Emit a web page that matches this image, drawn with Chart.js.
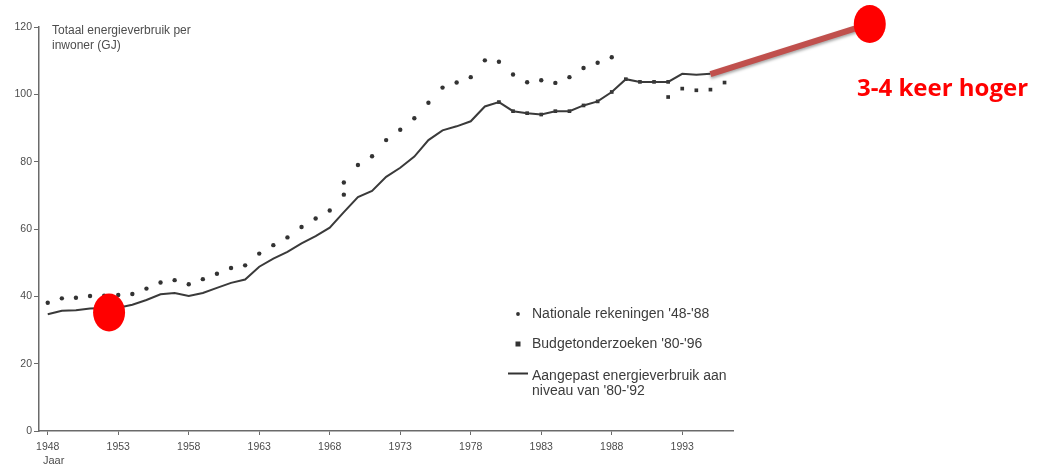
<!DOCTYPE html>
<html>
<head>
<meta charset="utf-8">
<script src="https://cdn.jsdelivr.net/npm/chart.js@4.4.1/dist/chart.umd.min.js"></script>
<style>
  html, body { margin: 0; padding: 0; background: #fff; }
  #wrap { width: 1046px; height: 468px; }
</style>
</head>
<body>
<div id="wrap"><canvas id="grafiek"></canvas></div>
<script>
// Nationale rekeningen '48-'88 (1969 komt twee keer voor: breuk in de reeks)
const jarenNationaal = [1948, 1949, 1950, 1951, 1952, 1953, 1954, 1955, 1956, 1957, 1958, 1959, 1960,
  1961, 1962, 1963, 1964, 1965, 1966, 1967, 1968, 1969, 1969, 1970, 1971, 1972, 1973, 1974, 1975,
  1976, 1977, 1978, 1979, 1980, 1981, 1982, 1983, 1984, 1985, 1986, 1987, 1988];
const waardenNationaal = [38.1, 39.4, 39.6, 40.1, 40.2, 40.4, 40.7, 42.3, 44.1, 44.8, 43.6, 45.1, 46.7,
  48.4, 49.2, 52.7, 55.2, 57.5, 60.6, 63.1, 65.5, 70.2, 73.8, 79.0, 81.6, 86.4, 89.5, 92.9, 97.5,
  102.0, 103.5, 105.1, 110.1, 109.7, 105.9, 103.6, 104.2, 103.4, 105.1, 107.8, 109.4, 111.0];

// Budgetonderzoeken '80-'96 (1992 twee keer)
const jarenBudget = [1980, 1981, 1982, 1983, 1984, 1985, 1986, 1987, 1988, 1989, 1990, 1991, 1992,
  1992, 1993, 1994, 1995, 1996];
const waardenBudget = [97.7, 95.0, 94.4, 94.0, 95.0, 95.0, 96.7, 97.9, 100.7, 104.5, 103.7, 103.7, 103.7,
  99.2, 101.7, 101.2, 101.4, 103.5];

// Aangepast energieverbruik aan niveau van '80-'92
const jarenAangepast = [1948, 1949, 1950, 1951, 1952, 1953, 1954, 1955, 1956, 1957, 1958, 1959, 1960,
  1961, 1962, 1963, 1964, 1965, 1966, 1967, 1968, 1969, 1970, 1971, 1972, 1973, 1974, 1975, 1976,
  1977, 1978, 1979, 1980, 1981, 1982, 1983, 1984, 1985, 1986, 1987, 1988, 1989, 1990, 1991, 1992,
  1993, 1994, 1995];
const waardenAangepast = [34.7, 35.7, 35.9, 36.4, 36.5, 36.6, 37.5, 38.9, 40.6, 41.0, 40.1, 41.0, 42.5,
  44.0, 45.0, 48.8, 51.2, 53.2, 55.7, 57.9, 60.4, 65.0, 69.5, 71.3, 75.5, 78.2, 81.5, 86.4, 89.3,
  90.5, 92.0, 96.4, 97.7, 95.0, 94.4, 94.0, 95.0, 95.0, 96.7, 97.9, 100.7, 104.5, 103.7, 103.7, 103.7,
  106.1, 105.8, 106.1];

const xTicks = [1948, 1953, 1958, 1963, 1968, 1973, 1978, 1983, 1988, 1993];
const yTicks = [0, 20, 40, 60, 80, 100, 120];

// rode markeringen (in data-eenheden)
const rodeCirkelLinks = { x: 1952.35, y: 35.2 };
const rodeLijnStart = { x: 1995.0, y: 106.0 };
const rodeCirkelRechts = { x: 2006.3, y: 120.9 };

const tekstKleur = '#4d4d4d';
const punten = (jaren, waarden) => jaren.map((jaar, i) => ({ x: jaar, y: waarden[i] }));

const extraTekst = {
  id: 'extraTekst',
  afterDraw(chart) {
    const { ctx, chartArea, scales } = chart;
    ctx.save();

    // astitel
    ctx.fillStyle = tekstKleur;
    ctx.font = '12px "Liberation Sans", Arial, sans-serif';
    ctx.textBaseline = 'middle';
    ctx.textAlign = 'left';
    ctx.fillText('Totaal energieverbruik per', chartArea.left + 13, chartArea.top + 4);
    ctx.fillText('inwoner (GJ)', chartArea.left + 13, chartArea.top + 19);
    ctx.font = '11px "Liberation Sans", Arial, sans-serif';
    ctx.fillText('Jaar', chartArea.left + 4, chartArea.bottom + 30);

    // legenda
    const lx = 532;
    ctx.font = '14px "Liberation Sans", Arial, sans-serif';
    ctx.fillStyle = '#3c3c3c';
    ctx.fillText("Nationale rekeningen '48-'88", lx, 314);
    ctx.fillText("Budgetonderzoeken '80-'96", lx, 344);
    ctx.fillText('Aangepast energieverbruik aan', lx, 376);
    ctx.fillText("niveau van '80-'92", lx, 391);
    ctx.fillStyle = '#333';
    ctx.beginPath();
    ctx.arc(lx - 14, 314, 1.9, 0, Math.PI * 2);
    ctx.fill();
    ctx.fillRect(lx - 16.5, 341.5, 5, 5);
    ctx.strokeStyle = '#333';
    ctx.lineWidth = 2;
    ctx.beginPath();
    ctx.moveTo(lx - 24, 373.5);
    ctx.lineTo(lx - 4, 373.5);
    ctx.stroke();

    // rode markeringen
    const px = (p) => ({ x: scales.x.getPixelForValue(p.x), y: scales.y.getPixelForValue(p.y) });
    const a = px(rodeLijnStart);
    const b = px(rodeCirkelRechts);
    ctx.save();
    ctx.shadowColor = 'rgba(0,0,0,0.35)';
    ctx.shadowBlur = 3;
    ctx.shadowOffsetY = 2;
    ctx.strokeStyle = '#c0504d';
    ctx.lineWidth = 6;
    ctx.beginPath();
    ctx.moveTo(a.x, a.y);
    ctx.lineTo(b.x, b.y);
    ctx.stroke();
    ctx.restore();

    ctx.fillStyle = '#ff0000';
    [rodeCirkelLinks, rodeCirkelRechts].forEach((p) => {
      const c = px(p);
      ctx.beginPath();
      ctx.ellipse(c.x, c.y, 16, 19, 0, 0, Math.PI * 2);
      ctx.fill();
    });

    ctx.font = 'bold 24px "Open Sans", "Liberation Sans", sans-serif';
    ctx.textBaseline = 'alphabetic';
    ctx.fillText('3-4 keer hoger', 857, 96);
    ctx.restore();
  }
};

new Chart(document.querySelector('#grafiek'), {
  type: 'scatter',
  data: {
    datasets: [
      {
        label: 'Aangepast energieverbruik aan niveau van \'80-\'92',
        data: punten(jarenAangepast, waardenAangepast),
        showLine: true,
        borderColor: '#3a3a3a',
        borderWidth: 2,
        pointRadius: 0,
        tension: 0
      },
      {
        label: 'Budgetonderzoeken \'80-\'96',
        data: punten(jarenBudget, waardenBudget),
        pointStyle: 'rect',
        pointRadius: 2.6,
        backgroundColor: '#333',
        borderColor: '#333',
        borderWidth: 0
      },
      {
        label: 'Nationale rekeningen \'48-\'88',
        data: punten(jarenNationaal, waardenNationaal),
        pointStyle: 'circle',
        pointRadius: 2.2,
        backgroundColor: '#333',
        borderColor: '#333',
        borderWidth: 0
      }
    ]
  },
  options: {
    responsive: true,
    maintainAspectRatio: false,
    animation: false,
    layout: { padding: { top: 27, right: 313, left: 0, bottom: 0 } },
    plugins: {
      legend: { display: false },
      tooltip: { enabled: false }
    },
    scales: {
      x: {
        type: 'linear',
        min: 1947.38,
        max: 1996.6,
        afterBuildTicks: (scale) => { scale.ticks = xTicks.map((v) => ({ value: v })); },
        afterFit: (scale) => { scale.height = 37; },
        border: { color: '#6a6a6a', width: 1.5 },
        grid: { drawOnChartArea: false, drawTicks: true, tickLength: 4, color: '#6a6a6a' },
        ticks: {
          color: tekstKleur,
          font: { size: 10.5, family: '"Liberation Sans", Arial, sans-serif' },
          padding: 6,
          maxRotation: 0,
          callback: (v) => String(v)
        }
      },
      y: {
        min: 0,
        max: 120,
        afterBuildTicks: (scale) => { scale.ticks = yTicks.map((v) => ({ value: v })); },
        afterFit: (scale) => { scale.width = 39; },
        border: { color: '#6a6a6a', width: 1.5 },
        grid: { drawOnChartArea: false, drawTicks: true, tickLength: 5, color: '#6a6a6a' },
        ticks: {
          color: tekstKleur,
          font: { size: 10.5, family: '"Liberation Sans", Arial, sans-serif' },
          padding: 2
        }
      }
    }
  },
  plugins: [extraTekst]
});
</script>
</body>
</html>
